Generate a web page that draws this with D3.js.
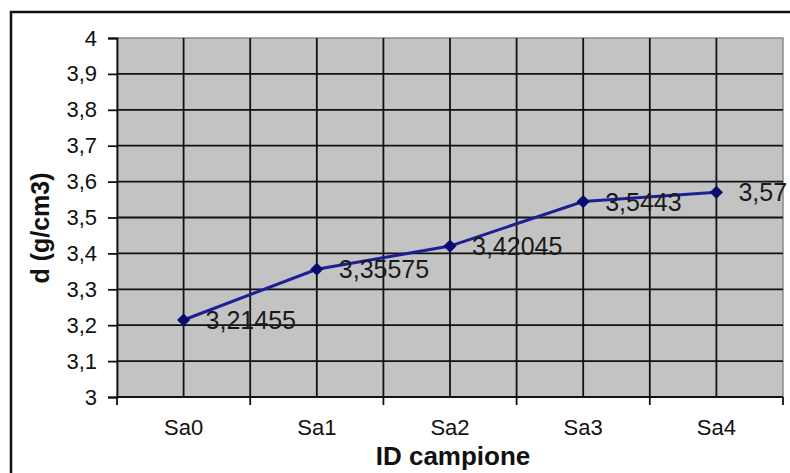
<!DOCTYPE html>
<html>
<head>
<meta charset="utf-8">
<script src="https://cdn.jsdelivr.net/npm/d3@7"></script>
<style>
  body { margin: 0; background: #fff; }
  svg { display: block; font-family: Arial, "Liberation Sans", sans-serif; }
</style>
</head>
<body>
<div id="chart"></div>
<script>
// Chart data
const categories = ['Sa0', 'Sa1', 'Sa2', 'Sa3', 'Sa4'];
const densities = [3.21455, 3.35575, 3.42045, 3.5443, 3.57];
const yTicks = [3, 3.1, 3.2, 3.3, 3.4, 3.5, 3.6, 3.7, 3.8, 3.9, 4];

const width = 790;
const height = 473;
const margin = { top: 38, right: 7, bottom: 76, left: 117 };
const plotW = width - margin.left - margin.right;
const plotH = height - margin.top - margin.bottom;

const it = d3.formatLocale({ decimal: ',', thousands: '.', grouping: [3], currency: ['€', ''] });
const fmtTick = it.format('~g');
const fmtLabel = v => String(v).replace('.', ',');

const svg = d3.select('#chart').append('svg')
    .attr('width', width)
    .attr('height', height);

// Outer chart frame (runs past the right and bottom edge)
svg.append('rect')
    .attr('x', 11)
    .attr('y', 12)
    .attr('width', width + 20)
    .attr('height', height + 20)
    .attr('fill', '#fff')
    .attr('stroke', '#111')
    .attr('stroke-width', 2.5);

const g = svg.append('g')
    .attr('transform', `translate(${margin.left},${margin.top})`);

const x = d3.scaleBand()
    .domain(categories)
    .range([0, plotW])
    .padding(0);

const y = d3.scaleLinear()
    .domain([3, 4])
    .range([plotH, 0]);

// Plot background
g.append('rect')
    .attr('width', plotW)
    .attr('height', plotH)
    .attr('fill', '#c3c3c3')
    .attr('stroke', '#8a8a8a')
    .attr('stroke-width', 1.5);

// Horizontal gridlines
g.append('g')
  .selectAll('line')
    .data(yTicks.slice(1, -1))
  .enter().append('line')
    .attr('x1', 0)
    .attr('x2', plotW)
    .attr('y1', d => y(d))
    .attr('y2', d => y(d))
    .attr('stroke', '#111')
    .attr('stroke-width', 1.8);

// Vertical gridlines at band edges and band centres
const vLines = [];
categories.forEach((c, i) => {
  if (i > 0) vLines.push(x(c));
  vLines.push(x(c) + x.bandwidth() / 2);
});
g.append('g')
  .selectAll('line')
    .data(vLines)
  .enter().append('line')
    .attr('x1', d => d)
    .attr('x2', d => d)
    .attr('y1', 0)
    .attr('y2', plotH)
    .attr('stroke', '#111')
    .attr('stroke-width', 1.8);

// Y axis
const yAxis = g.append('g')
    .call(d3.axisLeft(y).tickValues(yTicks).tickFormat(fmtTick).tickSize(9).tickPadding(11));
yAxis.select('.domain').attr('stroke', '#111').attr('stroke-width', 1.8);
yAxis.selectAll('.tick line').attr('stroke', '#111').attr('stroke-width', 1.8);
yAxis.selectAll('.tick text')
    .attr('font-size', 22)
    .attr('fill', '#111');

// X axis: ticks on band edges, labels at band centres
const xAxis = g.append('g')
    .attr('transform', `translate(0,${plotH})`);
xAxis.append('line')
    .attr('x1', 0)
    .attr('x2', plotW)
    .attr('stroke', '#111')
    .attr('stroke-width', 1.8);
xAxis.selectAll('.edge')
    .data(categories.map(c => x(c)).concat([plotW]))
  .enter().append('line')
    .attr('class', 'edge')
    .attr('x1', d => d)
    .attr('x2', d => d)
    .attr('y1', 0)
    .attr('y2', 8)
    .attr('stroke', '#111')
    .attr('stroke-width', 1.8);
xAxis.selectAll('.cat')
    .data(categories)
  .enter().append('text')
    .attr('class', 'cat')
    .attr('x', d => x(d) + x.bandwidth() / 2)
    .attr('y', 38)
    .attr('text-anchor', 'middle')
    .attr('font-size', 22)
    .attr('fill', '#111')
    .text(d => d);

// Series line
const points = categories.map((c, i) => ({ cat: c, v: densities[i] }));
const line = d3.line()
    .x(d => x(d.cat) + x.bandwidth() / 2)
    .y(d => y(d.v));

g.append('path')
    .datum(points)
    .attr('d', line)
    .attr('fill', 'none')
    .attr('stroke', '#1e1e96')
    .attr('stroke-width', 3);

// Diamond markers
g.selectAll('.marker')
    .data(points)
  .enter().append('path')
    .attr('class', 'marker')
    .attr('d', d3.symbol(d3.symbolDiamond2, 110))
    .attr('transform', d => `translate(${x(d.cat) + x.bandwidth() / 2},${y(d.v)})`)
    .attr('fill', '#0a0a70');

// Data labels
g.selectAll('.label')
    .data(points)
  .enter().append('text')
    .attr('class', 'label')
    .attr('x', d => x(d.cat) + x.bandwidth() / 2 + 22)
    .attr('y', d => y(d.v))
    .attr('dy', '0.36em')
    .attr('font-size', 25)
    .attr('fill', '#1a1a1a')
    .text(d => fmtLabel(d.v));

// Axis titles
svg.append('text')
    .attr('x', margin.left + plotW / 2 + 3)
    .attr('y', 465)
    .attr('text-anchor', 'middle')
    .attr('font-size', 26)
    .attr('font-weight', 'bold')
    .attr('fill', '#111')
    .text('ID campione');

svg.append('text')
    .attr('transform', 'translate(49,228) rotate(-90)')
    .attr('text-anchor', 'middle')
    .attr('font-size', 25)
    .attr('font-weight', 'bold')
    .attr('fill', '#111')
    .text('d (g/cm3)');
</script>
</body>
</html>
